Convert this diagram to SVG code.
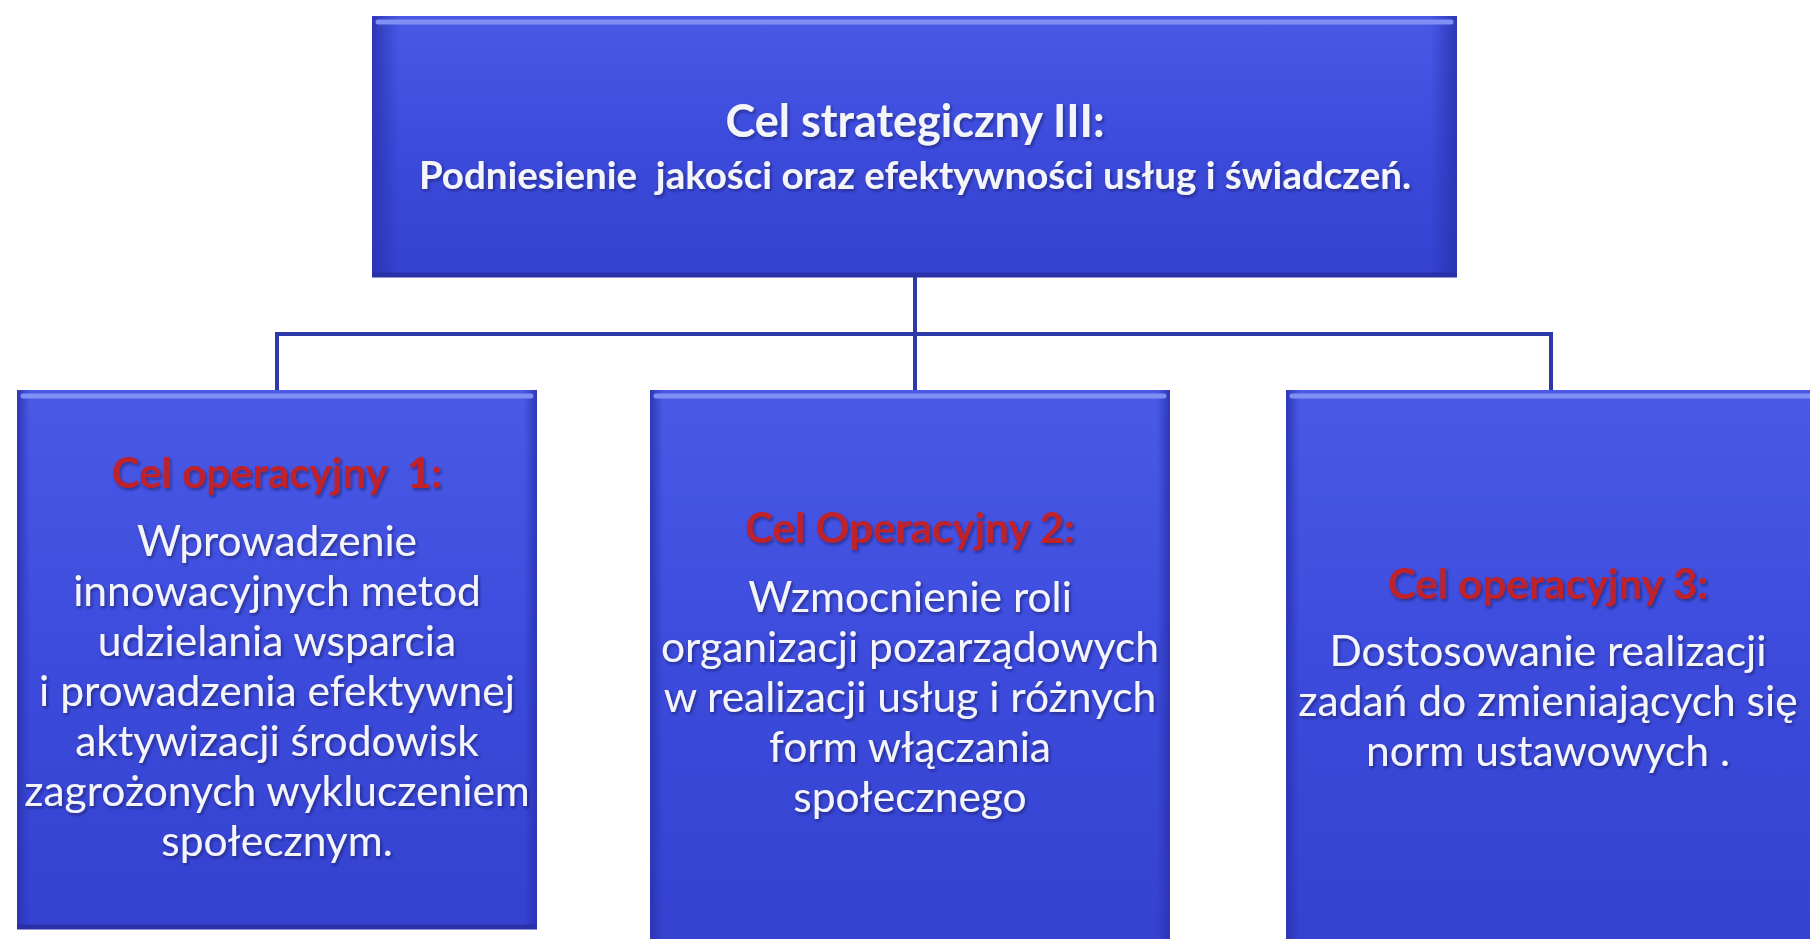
<svg xmlns="http://www.w3.org/2000/svg" width="1810" height="939" viewBox="0 0 1810 939">
<defs>
<linearGradient id="bg" x1="0" y1="0" x2="0" y2="1">
<stop offset="0" stop-color="#4a5ae6"/>
<stop offset="0.5" stop-color="#3c4bdc"/>
<stop offset="1" stop-color="#3542d0"/>
</linearGradient>
<linearGradient id="side" x1="0" y1="0" x2="1" y2="0">
<stop offset="0" stop-color="#2a33b0" stop-opacity="0.9"/>
<stop offset="0.025" stop-color="#2a33b0" stop-opacity="0"/>
<stop offset="0.975" stop-color="#2a33b0" stop-opacity="0"/>
<stop offset="1" stop-color="#2a33b0" stop-opacity="0.9"/>
</linearGradient>
<filter id="ts" x="-5%" y="-20%" width="110%" height="140%">
<feDropShadow dx="1.5" dy="2" stdDeviation="1.5" flood-color="#10154a" flood-opacity="0.55"/>
</filter>
</defs>
<style>
.box{fill:url(#bg);}
.bev{fill:url(#side);}
.hi{fill:none;stroke:#7f8ff4;stroke-width:5;stroke-linecap:round;}
.lo{fill:none;stroke:#2a30a8;stroke-width:5;}
.conn{fill:none;stroke:#2b3aa8;stroke-width:4;}
.t{font-family:"Lato","Liberation Sans",sans-serif;text-anchor:middle;fill:#f4f4fb;filter:url(#ts);}
.h{font-weight:bold;font-size:45px;}
.s{font-weight:bold;font-size:38.5px;}
.red{font-family:"Lato","Liberation Sans",sans-serif;text-anchor:middle;fill:#c0202a;font-weight:bold;font-size:42px;filter:url(#ts);}
.b{font-size:42.5px;}
</style>
<rect width="1810" height="939" fill="#ffffff"/>
<g id="connectors">
<line class="conn" x1="915" y1="277" x2="915" y2="390"/>
<polyline class="conn" points="277,390 277,334 1551,334 1551,390"/>
</g>
<g id="top">
<rect class="box" x="372" y="16" width="1085" height="261"/>
<rect class="bev" x="372" y="16" width="1085" height="261"/>
<line class="hi" x1="378" y1="22" x2="1451" y2="22"/>
<line class="lo" x1="372" y1="275" x2="1457" y2="275"/>
<text class="t h" x="915" y="137">Cel strategiczny III:</text>
<text class="t s" x="915" y="189" xml:space="preserve">Podniesienie  jakości oraz efektywności usług i świadczeń.</text>
</g>
<g id="op1">
<rect class="box" x="17" y="390" width="520" height="539"/>
<rect class="bev" x="17" y="390" width="520" height="539"/>
<line class="hi" x1="23" y1="396" x2="531" y2="396"/>
<line class="lo" x1="17" y1="927" x2="537" y2="927"/>
<text class="red" x="277" y="488" xml:space="preserve">Cel operacyjny  1:</text>
<text class="t b" x="277" y="556">Wprowadzenie</text>
<text class="t b" x="277" y="606">innowacyjnych metod</text>
<text class="t b" x="277" y="656">udzielania wsparcia</text>
<text class="t b" x="277" y="706">i prowadzenia efektywnej</text>
<text class="t b" x="277" y="756">aktywizacji środowisk</text>
<text class="t b" x="277" y="806">zagrożonych wykluczeniem</text>
<text class="t b" x="277" y="856">społecznym.</text>
</g>
<g id="op2">
<rect class="box" x="650" y="390" width="520" height="549"/>
<rect class="bev" x="650" y="390" width="520" height="549"/>
<line class="hi" x1="656" y1="396" x2="1164" y2="396"/>
<text class="red" x="910" y="543">Cel Operacyjny 2:</text>
<text class="t b" x="910" y="612">Wzmocnienie roli</text>
<text class="t b" x="910" y="662">organizacji pozarządowych</text>
<text class="t b" x="910" y="712">w realizacji usług i różnych</text>
<text class="t b" x="910" y="762">form włączania</text>
<text class="t b" x="910" y="812">społecznego</text>
</g>
<g id="op3">
<rect class="box" x="1286" y="390" width="540" height="549"/>
<rect class="bev" x="1286" y="390" width="540" height="549"/>
<line class="hi" x1="1292" y1="396" x2="1810" y2="396"/>
<text class="red" x="1548" y="599">Cel operacyjny 3:</text>
<text class="t b" x="1548" y="666">Dostosowanie realizacji</text>
<text class="t b" x="1548" y="716">zadań do zmieniających się</text>
<text class="t b" x="1548" y="766">norm ustawowych .</text>
</g>
</svg>
